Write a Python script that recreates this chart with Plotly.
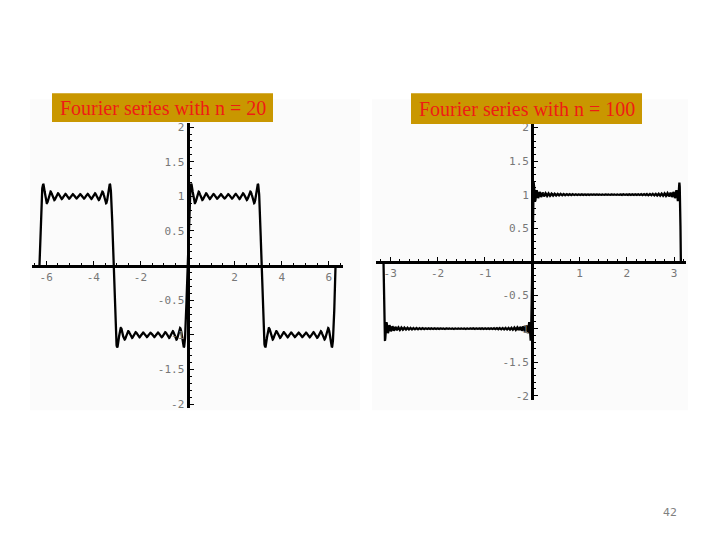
import numpy as np
import plotly.graph_objects as go

# ---- data ----
panel_titles = ["Fourier series with n = 20", "Fourier series with n = 100"]
n_terms = [20, 100]                      # highest harmonic index in the partial sum
x_spans = [(-2 * np.pi, 2 * np.pi), (-np.pi, np.pi)]
sample_counts = [3000, 8000]
x_tick_vals = [[-6, -4, -2, 2, 4, 6], [-3, -2, -1, 1, 2, 3]]
x_tick_text = [["-6", "-4", "-2", "2", "4", "6"], ["-3", "-2", "-1", "1", "2", "3"]]
y_tick_vals = [-2, -1.5, -1, -0.5, 0.5, 1, 1.5, 2]
y_tick_text = ["-2", "-1.5", "-1", "-0.5", "0.5", "1", "1.5", "2"]
page_number = "42"


def square_wave_partial_sum(x, n):
    s = np.zeros_like(x)
    for k in range(1, n + 1, 2):
        s += 4.0 / (np.pi * k) * np.sin(k * x)
    return s


W, H = 720, 540
OFF = 8  # page body margin
def px(v):
    return (v - OFF) / W
def py(v):
    return 1 - (v - OFF) / H

fig = go.Figure()

panels = [
    dict(xr=[-6.6, 6.6], xpix=(32, 343), yr=[-2.06, 2.06], ypix=(122, 410), minor=0.5),
    dict(xr=[-3.3, 3.25], xpix=(376, 686), yr=[-2.07, 2.07], ypix=(122, 402), minor=0.2),
]

for i in range(2):
    a, b = x_spans[i]
    x = np.linspace(a, b, sample_counts[i])
    y = square_wave_partial_sum(x, n_terms[i])
    sfx = "" if i == 0 else "2"
    fig.add_trace(go.Scatter(x=x, y=y, mode="lines",
                             line=dict(color="black", width=2.3),
                             xaxis="x" + sfx, yaxis="y" + sfx,
                             showlegend=False, hoverinfo="skip"))

    p = panels[i]
    xdom = [px(p["xpix"][0]), px(p["xpix"][1])]
    ydom = [py(p["ypix"][1]), py(p["ypix"][0])]
    fx = (0 - p["xr"][0]) / (p["xr"][1] - p["xr"][0])
    fy = (0 - p["yr"][0]) / (p["yr"][1] - p["yr"][0])
    xpos = xdom[0] + fx * (xdom[1] - xdom[0])
    ypos = ydom[0] + fy * (ydom[1] - ydom[0])

    tickfont = dict(family="DejaVu Sans Mono", size=11, color="#777777")
    fig.update_layout(**{
        "xaxis" + sfx: dict(domain=xdom, range=p["xr"], anchor="free", position=ypos,
                            showgrid=False, zeroline=False, showline=True,
                            linecolor="black", linewidth=3,
                            tickvals=x_tick_vals[i], ticktext=x_tick_text[i],
                            ticks="inside", ticklen=4,
                            tickcolor="black", tickwidth=1, tickfont=tickfont,
                            minor=dict(dtick=p["minor"], ticks="inside",
                                       ticklen=2, tickcolor="black"),
                            fixedrange=True),
        "yaxis" + sfx: dict(domain=ydom, range=p["yr"], anchor="free", position=xpos,
                            showgrid=False, zeroline=False, showline=True,
                            linecolor="black", linewidth=3,
                            tickvals=y_tick_vals, ticktext=y_tick_text,
                            ticks="inside", ticklen=4, tickcolor="black",
                            tickwidth=1, tickfont=tickfont,
                            minor=dict(dtick=0.1, ticks="inside", ticklen=2,
                                       tickcolor="black"),
                            fixedrange=True),
    })

shapes = [
    dict(type="rect", xref="paper", yref="paper", x0=px(30), x1=px(360),
         y0=py(412), y1=py(98), fillcolor="#FBFBFB", line=dict(width=0), layer="below"),
    dict(type="rect", xref="paper", yref="paper", x0=px(372), x1=px(688),
         y0=py(412), y1=py(98), fillcolor="#FBFBFB", line=dict(width=0), layer="below"),
    dict(type="rect", xref="paper", yref="paper", x0=px(52), x1=px(273),
         y0=py(121), y1=py(92), fillcolor="#C99700", line=dict(width=0), layer="above"),
    dict(type="rect", xref="paper", yref="paper", x0=px(411), x1=px(642),
         y0=py(123), y1=py(92), fillcolor="#C99700", line=dict(width=0), layer="above"),
]

titlefont = dict(family="Liberation Serif", size=20, color="#EE1C14")
annotations = [
    dict(xref="paper", yref="paper", x=px(162.5), y=py(106.5), text=panel_titles[0],
         showarrow=False, font=titlefont, xanchor="center", yanchor="middle"),
    dict(xref="paper", yref="paper", x=px(526.5), y=py(107.5), text=panel_titles[1],
         showarrow=False, font=titlefont, xanchor="center", yanchor="middle"),
    dict(xref="paper", yref="paper", x=px(670), y=py(515), text=page_number,
         showarrow=False, font=dict(family="DejaVu Sans", size=11, color="#808080"),
         xanchor="center", yanchor="middle"),
]

fig.update_layout(width=W, height=H, margin=dict(l=0, r=0, t=0, b=0),
                  paper_bgcolor="white", plot_bgcolor="rgba(0,0,0,0)",
                  shapes=shapes, annotations=annotations, showlegend=False)

fig.write_html("out.html")
